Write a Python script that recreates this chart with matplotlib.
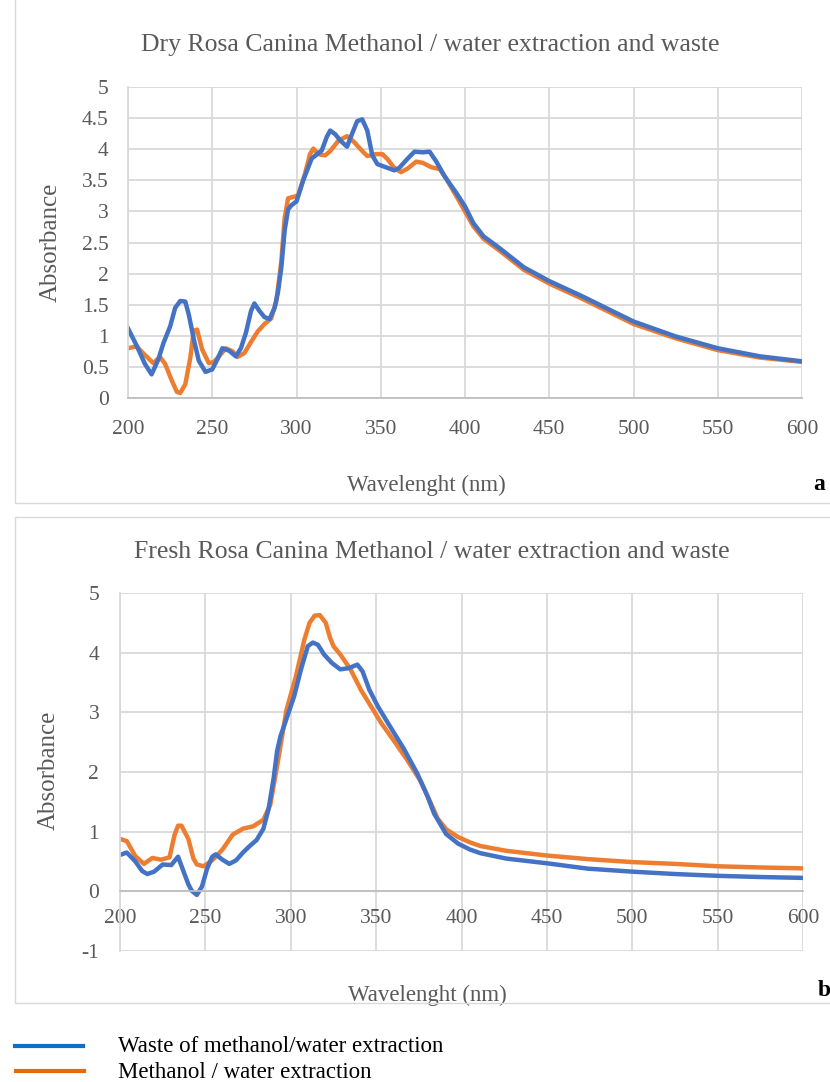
import matplotlib
matplotlib.use("Agg")
import matplotlib.pyplot as plt
from matplotlib.lines import Line2D
from matplotlib.patches import Rectangle

# wavelength (nm) / absorbance
dry_waste_nm = [200, 205, 210, 214, 218, 221, 225, 228, 231, 234, 236, 239, 242, 246, 250,
                253, 256, 260, 264, 267, 270, 273, 275, 278, 281, 284, 287, 289, 291, 293,
                295, 297, 300, 304, 309, 315, 318, 320, 323, 326, 330, 333, 336, 339, 342,
                345, 348, 353, 358, 361, 366, 370, 375, 379, 383, 388, 395, 400, 405, 411,
                420, 435, 450, 470, 500, 525, 550, 575, 600]
dry_waste_abs = [1.12, 0.85, 0.55, 0.38, 0.62, 0.88, 1.15, 1.45, 1.56, 1.55, 1.35, 0.95, 0.60, 0.42, 0.46,
                 0.62, 0.80, 0.76, 0.67, 0.80, 1.05, 1.40, 1.52, 1.40, 1.30, 1.27, 1.45, 1.70, 2.10, 2.70,
                 3.03, 3.10, 3.16, 3.50, 3.85, 3.98, 4.20, 4.30, 4.24, 4.14, 4.04, 4.25, 4.45, 4.48, 4.30,
                 3.90, 3.76, 3.71, 3.66, 3.70, 3.85, 3.96, 3.95, 3.96, 3.80, 3.56, 3.29, 3.08, 2.81, 2.60,
                 2.42, 2.10, 1.88, 1.63, 1.23, 0.99, 0.80, 0.67, 0.59]

dry_extr_nm = [200, 205, 209, 215, 219, 222, 226, 229, 231, 234, 237, 239, 241, 244, 248,
               251, 254, 258, 262, 265, 269, 273, 277, 281, 285, 288, 291, 293, 295, 299,
               301, 305, 308, 310, 313, 317, 320, 325, 330, 334, 338, 342, 347, 351, 354,
               358, 362, 366, 371, 375, 380, 385, 389, 395, 400, 405, 411, 420, 435, 450,
               470, 500, 525, 550, 575, 600]
dry_extr_abs = [0.80, 0.83, 0.72, 0.56, 0.66, 0.55, 0.28, 0.10, 0.08, 0.22, 0.65, 1.08, 1.10, 0.78, 0.56,
                0.58, 0.67, 0.80, 0.75, 0.66, 0.72, 0.90, 1.07, 1.19, 1.28, 1.55, 2.20, 2.90, 3.21, 3.24,
                3.26, 3.60, 3.92, 4.01, 3.92, 3.90, 3.97, 4.14, 4.21, 4.12, 4.00, 3.89, 3.92, 3.92, 3.84,
                3.70, 3.63, 3.69, 3.80, 3.78, 3.71, 3.68, 3.52, 3.24, 3.00, 2.76, 2.56, 2.38, 2.06, 1.84,
                1.59, 1.19, 0.96, 0.77, 0.65, 0.58]

fresh_waste_nm = [200, 204, 209, 213, 216, 220, 225, 230, 234, 237, 240, 242, 245, 248, 251,
                  254, 256, 260, 264, 268, 272, 276, 280, 284, 287, 290, 292, 294, 297, 302,
                  306, 310, 313, 316, 319.5, 324, 329, 334, 339, 342, 346, 351, 358, 366, 374,
                  380, 384, 391, 398, 405, 411, 426, 450, 474, 500, 525, 550, 575, 600]
fresh_waste_abs = [0.61, 0.65, 0.50, 0.34, 0.29, 0.33, 0.45, 0.44, 0.58, 0.35, 0.12, 0.01, -0.06, 0.08, 0.38,
                   0.58, 0.62, 0.53, 0.46, 0.52, 0.65, 0.76, 0.86, 1.05, 1.38, 1.90, 2.35, 2.60, 2.85, 3.27,
                   3.72, 4.11, 4.17, 4.13, 3.97, 3.83, 3.72, 3.74, 3.80, 3.69, 3.38, 3.10, 2.77, 2.40, 1.98,
                   1.60, 1.30, 0.96, 0.80, 0.70, 0.64, 0.55, 0.47, 0.38, 0.33, 0.29, 0.26, 0.24, 0.225]

fresh_extr_nm = [200, 204, 209, 214, 219, 224, 229, 232, 234, 236, 240, 243, 245, 249, 254,
                 260, 266, 272, 278, 284, 288, 292, 297.5, 303, 308, 311, 314, 317, 320.5, 323,
                 325, 329, 335, 341, 347, 353, 360, 368, 376, 382, 386, 391, 398, 405, 411,
                 426, 450, 474, 500, 525, 550, 575, 600]
fresh_extr_abs = [0.88, 0.84, 0.59, 0.46, 0.56, 0.53, 0.57, 0.95, 1.10, 1.10, 0.88, 0.55, 0.45, 0.42, 0.52,
                  0.70, 0.95, 1.05, 1.09, 1.20, 1.45, 2.10, 3.04, 3.60, 4.22, 4.50, 4.62, 4.63, 4.50, 4.25,
                  4.11, 3.97, 3.72, 3.38, 3.10, 2.82, 2.54, 2.21, 1.85, 1.48, 1.22, 1.04, 0.91, 0.82, 0.76,
                  0.68, 0.60, 0.54, 0.49, 0.46, 0.42, 0.40, 0.385]

x_ticks = [200, 250, 300, 350, 400, 450, 500, 550, 600]
dry_y_ticks = [0, 0.5, 1, 1.5, 2, 2.5, 3, 3.5, 4, 4.5, 5]
fresh_y_ticks = [-1, 0, 1, 2, 3, 4, 5]

BLUE = "#4472C4"
ORANGE = "#ED7D31"
GRID = "#d9d9d9"
TXT = "#595959"

plt.rcParams["font.family"] = ["Liberation Serif", "DejaVu Serif"]

W, H = 830, 1082
fig = plt.figure(figsize=(W / 100, H / 100), dpi=100)


def fx(px):
    return px / W


def fy(py):
    return 1 - py / H


# light chart-area frames
fig.add_artist(Rectangle((fx(15), fy(503)), fx(830), fy(-10) - fy(503), transform=fig.transFigure,
                         fill=False, edgecolor=GRID, linewidth=1))
fig.add_artist(Rectangle((fx(15), fy(1003)), fx(830), fy(517) - fy(1003), transform=fig.transFigure,
                         fill=False, edgecolor=GRID, linewidth=1))


def style_axes(ax, yticks, ylim, ypad, xpad):
    ax.set_xlim(200, 600)
    ax.set_ylim(*ylim)
    ax.set_xticks(x_ticks)
    ax.set_yticks(yticks)
    ax.set_yticklabels([f"{t:g}" for t in yticks])
    ax.grid(True, color=GRID, linewidth=1.3)
    ax.set_axisbelow(True)
    for s in ["top", "right"]:
        ax.spines[s].set_visible(False)
    ax.spines["left"].set_color(GRID)
    ax.spines["left"].set_linewidth(1.3)
    ax.spines["bottom"].set_color("#bfbfbf")
    ax.spines["bottom"].set_linewidth(1.3)
    ax.tick_params(axis="both", length=0, labelsize=15.5, labelcolor=TXT)
    ax.tick_params(axis="y", pad=ypad)
    ax.tick_params(axis="x", pad=xpad)


# panel a
ax1 = fig.add_axes([fx(128), fy(398), fx(802 - 128), fy(87) - fy(398)])
style_axes(ax1, dry_y_ticks, (0, 5), 14, 16)
ax1.plot(dry_extr_nm, dry_extr_abs, color=ORANGE, linewidth=3.2, solid_joinstyle="round")
ax1.plot(dry_waste_nm, dry_waste_abs, color=BLUE, linewidth=3.2, solid_joinstyle="round")
ax1.set_ylabel("Absorbance", fontsize=18, color=TXT)
ax1.yaxis.set_label_coords((62 - 128) / 674, 0.5)
ax1.set_xlabel("Wavelenght (nm)", fontsize=16.5, color=TXT)
ax1.xaxis.set_label_coords((426 - 128) / 674, (398 - 475) / 311)
fig.text(fx(430), fy(45), "Dry Rosa Canina Methanol / water extraction and waste",
         ha="center", va="center", fontsize=18.5, color=TXT)
fig.text(fx(813), fy(484), "a", ha="left", va="center", fontsize=17, fontweight="bold")

# panel b
ax2 = fig.add_axes([fx(120), fy(951), fx(803 - 120), fy(593) - fy(951)])
style_axes(ax2, fresh_y_ticks, (-1, 5), 15, 13)
ax2.spines["bottom"].set_position(("data", 0))
ax2.plot(fresh_extr_nm, fresh_extr_abs, color=ORANGE, linewidth=3.2, solid_joinstyle="round")
ax2.plot(fresh_waste_nm, fresh_waste_abs, color=BLUE, linewidth=3.2, solid_joinstyle="round")
ax2.set_ylabel("Absorbance", fontsize=18, color=TXT)
ax2.yaxis.set_label_coords((60 - 120) / 683, (951 - 770) / 358)
ax2.set_xlabel("Wavelenght (nm)", fontsize=16.5, color=TXT)
ax2.xaxis.set_label_coords((427 - 120) / 683, (951 - 985) / 358)
fig.text(fx(432), fy(552), "Fresh Rosa Canina Methanol / water extraction and waste",
         ha="center", va="center", fontsize=18.5, color=TXT)
fig.text(fx(818), fy(991), "b", ha="left", va="center", fontsize=17, fontweight="bold")

# legend under the two charts
fig.add_artist(Line2D([fx(15), fx(83)], [fy(1046), fy(1046)], transform=fig.transFigure,
                      color="#0F6FC6", linewidth=3))
fig.add_artist(Line2D([fx(16), fx(84)], [fy(1071), fy(1071)], transform=fig.transFigure,
                      color="#E36C09", linewidth=3))
fig.text(fx(118), fy(1046), "Waste of methanol/water extraction", ha="left", va="center", fontsize=16.5)
fig.text(fx(118), fy(1072), "Methanol / water extraction", ha="left", va="center", fontsize=16.5)

fig.savefig("out.png", dpi=100)
